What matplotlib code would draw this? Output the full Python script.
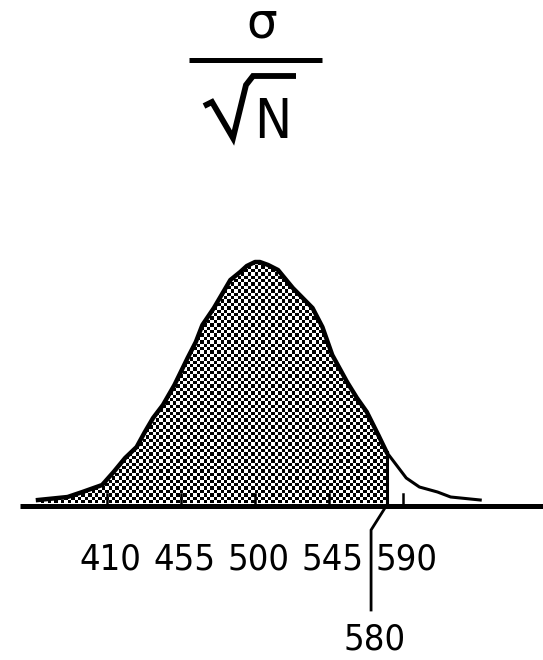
import numpy as np
import matplotlib
matplotlib.use("Agg")
import matplotlib.pyplot as plt
from matplotlib.lines import Line2D

# sampling distribution of the mean, read as (score, height) pairs
score = [368, 386, 395, 407, 414, 421, 428, 433, 438, 444, 451, 459, 464, 468,
         475, 485, 491, 495, 500, 503, 508, 514, 523, 535, 541, 547, 556, 562,
         568, 575, 580, 586, 592, 600, 611, 619, 637]
height = [3, 6, 11, 18, 31, 45, 56, 71, 85, 98, 118, 145, 161, 178,
          195, 223, 231, 237, 241, 241, 238, 233, 215, 195, 176, 148, 121, 105,
          91, 68, 51, 38, 25, 16, 11, 6, 3]
tick_values = [410, 455, 500, 545, 590]
cutoff = 580

label_font = dict(family=["Liberation Sans Narrow", "DejaVu Sans"],
                  fontstretch="condensed", color="black")
plt.rcParams["mathtext.fontset"] = "dejavusans"

W, H = 543, 660
fig = plt.figure(figsize=(W / 100, H / 100), dpi=100)
fig.patch.set_facecolor("white")

# main axes: x in score units, y in pixel-sized height units
px_per_unit = 1.644
x0 = 500 - 255 / px_per_unit
x1 = 500 + (W - 255) / px_per_unit
ax = fig.add_axes([0, 0, 1, 1])
ax.set_xlim(x0, x1)
ax.set_ylim(-(H - 503), 503)
ax.axis("off")

score = np.array(score, dtype=float)
height = np.array(height, dtype=float)

# shaded area up to the cutoff, filled with a checkerboard texture
left = score <= cutoff
poly = ax.fill_between(score[left], height[left], 0, facecolor="none",
                       edgecolor="none")
cols, rows = 160, 194
checker = np.add.outer(np.arange(rows), np.arange(cols)) % 2
im = ax.imshow(checker, cmap="gray_r", extent=(x0, x1, -(H - 503), 503),
               interpolation="nearest", aspect="auto", zorder=1)
im.set_clip_path(poly.get_paths()[0], transform=ax.transData)
ax.set_xlim(x0, x1)
ax.set_ylim(-(H - 503), 503)

# curve outline
right = score >= cutoff
ax.plot(score[left], height[left], color="black", lw=3.2, zorder=3,
        solid_joinstyle="round")
ax.plot(score[right], height[right], color="black", lw=2.2, zorder=3)
ax.plot([cutoff, cutoff], [0, height[score == cutoff][0]], color="black",
        lw=2.2, zorder=3)

# baseline and ticks
ax.plot([357, x1], [-2.5, -2.5], color="black", lw=3.6, zorder=4,
        solid_capstyle="butt")
for t in tick_values:
    ax.plot([t, t], [0, 9], color="black", lw=1.8, zorder=3)
    ax.text(t + 2, -56, str(t), ha="center", va="center", fontsize=26,
            **label_font)

# leader line to the cutoff label
lead_x = 570.6
ax.plot([cutoff, lead_x, lead_x], [-2.5, -27, -107], color="black", lw=2.0,
        zorder=4, solid_joinstyle="miter")
ax.text(573, -136, str(cutoff), ha="center", va="center", fontsize=26,
        **label_font)

# standard error formula at the top, in pixel coordinates
tax = fig.add_axes([0, 0, 1, 1])
tax.set_xlim(0, W)
tax.set_ylim(H, 0)
tax.axis("off")
tax.patch.set_alpha(0)
tax.text(262, 38, r"$\mathrm{\sigma}$", ha="center", va="baseline",
         fontsize=35)
tax.add_line(Line2D([189, 322], [59.5, 59.5], color="black", lw=3.6,
                    solid_capstyle="butt"))
tax.add_line(Line2D([204, 212, 233, 246, 253, 296], [106, 102, 138, 85, 76, 76],
                    color="black", lw=4.2, solid_joinstyle="miter",
                    solid_capstyle="butt"))
tax.text(273, 138, "N", ha="center", va="baseline", fontsize=40,
         **label_font)

fig.savefig("out.png", dpi=100, facecolor="white")
